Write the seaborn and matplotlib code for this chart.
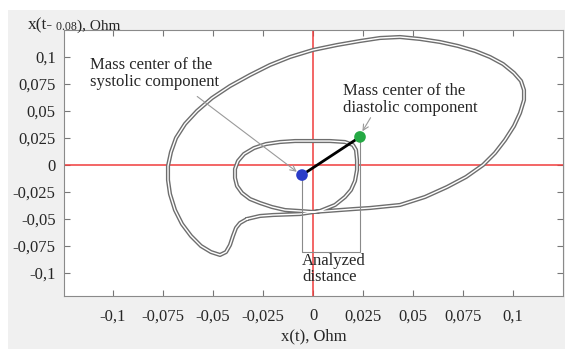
import matplotlib
matplotlib.use("Agg")
import pandas as pd
import seaborn as sns
import matplotlib.pyplot as plt
from matplotlib.patches import Rectangle

# phase portrait trace (Ohm)
loop_x = [-0.033, -0.0265, -0.020, -0.0065, 0.0035, 0.011, 0.016, 0.019, 0.021, 0.022,
          0.022, 0.0215, 0.020, 0.016, 0.0085, 0.0, -0.009, -0.0165, -0.0235, -0.0295,
          -0.0345, -0.0375, -0.039, -0.039, -0.038, -0.0355, -0.0315, -0.0265, -0.0205, -0.014,
          -0.0065, 0.0, 0.007, 0.0135, 0.021, 0.0285, 0.0435, 0.056, 0.067, 0.0765,
          0.085, 0.091, 0.096, 0.1005, 0.1035, 0.1055, 0.1055, 0.104, 0.1005, 0.095,
          0.0885, 0.081, 0.0725, 0.0635, 0.0535, 0.0435, 0.0335, 0.0235, 0.012, 0.0,
          -0.0115, -0.0215, -0.0315, -0.0415, -0.0505, -0.058, -0.064, -0.0685, -0.071, -0.0725,
          -0.0725, -0.0715, -0.069, -0.0655, -0.061, -0.056, -0.051, -0.0465, -0.0435, -0.0415,
          -0.040, -0.0385, -0.0365, -0.033]
loop_y = [-0.050, -0.0472, -0.0463, -0.0454, -0.0426, -0.037, -0.0296, -0.0231, -0.0148, -0.0046,
          0.0046, 0.0139, 0.0185, 0.0213, 0.0222, 0.0222, 0.0222, 0.0213, 0.0194, 0.0157,
          0.0102, 0.0037, -0.0037, -0.012, -0.0194, -0.0259, -0.0315, -0.0352, -0.0389, -0.0417,
          -0.0426, -0.0435, -0.0426, -0.0417, -0.0407, -0.0398, -0.037, -0.0296, -0.0204, -0.0111,
          0.0, 0.0111, 0.0231, 0.0361, 0.0481, 0.0602, 0.0694, 0.0778, 0.0852, 0.0935,
          0.1, 0.1056, 0.1102, 0.1139, 0.1167, 0.1185, 0.1176, 0.1148, 0.1111, 0.1065,
          0.1, 0.0926, 0.0833, 0.0731, 0.062, 0.05, 0.038, 0.025, 0.012, -0.0009,
          -0.0139, -0.0269, -0.0417, -0.0546, -0.0657, -0.075, -0.0806, -0.0833, -0.0806, -0.0741,
          -0.0657, -0.0583, -0.0537, -0.050]

systolic_center = (-0.0055, -0.0093)
diastolic_center = (0.0235, 0.026)
bracket_bottom = -0.0806

ticks = [-0.1, -0.075, -0.05, -0.025, 0, 0.025, 0.05, 0.075, 0.1]
tick_labels = ['-0,1', '-0,075', '-0,05', '-0,025', '0', '0,025', '0,05', '0,075', '0,1']

df = pd.DataFrame({'x': loop_x, 'y': loop_y})

sns.set_style("ticks")
plt.rcParams['font.family'] = ['Liberation Serif', 'DejaVu Serif']

fig = plt.figure(figsize=(5.65, 3.49), dpi=100)
fig.patch.set_facecolor('white')
fig.patches.append(Rectangle((8 / 565, 0), 1, 1 - 10 / 349, transform=fig.transFigure,
                             facecolor='#f0f0f0', edgecolor='none', zorder=-10))
ax = fig.add_axes([64 / 565, 1 - 296 / 349, (563 - 64) / 565, (296 - 30) / 349])
ax.set_facecolor('white')

ax.axhline(0, color='#f03c3c', lw=1.1, zorder=1)
ax.axvline(0, color='#f03c3c', lw=1.1, zorder=1)

# double-stroked gray trace
sns.lineplot(data=df, x='x', y='y', sort=False, estimator=None, ax=ax,
             color='#6e6e6e', lw=3.0, zorder=2, solid_joinstyle='round')
sns.lineplot(data=df, x='x', y='y', sort=False, estimator=None, ax=ax,
             color='white', lw=1.0, zorder=3, solid_joinstyle='round')

# analyzed distance bracket
sx, sy = systolic_center
dx, dy = diastolic_center
ax.plot([sx, sx, dx, dx], [sy, bracket_bottom, bracket_bottom, dy], color='#8a8a8a', lw=0.8, zorder=4)
ax.plot([sx, dx], [sy, dy], color='black', lw=2.0, zorder=5)
centers = pd.DataFrame({'x': [sx, dx], 'y': [sy, dy], 'c': ['sys', 'dia']})
sns.scatterplot(data=centers, x='x', y='y', hue='c', palette={'sys': '#2a3cc8', 'dia': '#25a944'},
                s=70, edgecolor='none', legend=False, ax=ax, zorder=6)

ax.annotate('', xy=(sx - 0.0015, sy + 0.0015), xytext=(-0.059, 0.065),
            arrowprops=dict(arrowstyle='->', color='#9a9a9a', lw=0.8), zorder=4)
ax.text(-0.1115, 0.1, 'Mass center of the\nsystolic component', fontsize=12,
        va='top', ha='left', linespacing=1.05)
ax.annotate('', xy=(dx + 0.0005, dy + 0.003), xytext=(0.0295, 0.046),
            arrowprops=dict(arrowstyle='->', color='#9a9a9a', lw=0.8), zorder=4)
ax.text(0.015, 0.076, 'Mass center of the\ndiastolic component', fontsize=12,
        va='top', ha='left', linespacing=1.05)
ax.text(sx, bracket_bottom - 0.001, 'Analyzed\ndistance', fontsize=12,
        va='top', ha='left', linespacing=1.0)

ax.set_xlim(-0.1245, 0.125)
ax.set_ylim(-0.1213, 0.125)
ax.set_xticks(ticks)
ax.set_xticklabels(tick_labels)
ax.set_yticks(ticks)
ax.set_yticklabels(tick_labels)
ax.tick_params(direction='in', length=4, width=0.8, color='#777777', labelsize=12,
               top=True, right=True, pad=6)
ax.tick_params(axis='x', pad=9)
for sp in ax.spines.values():
    sp.set_color('#8a8a8a')
    sp.set_linewidth(0.8)
ax.set_xlabel('x(t), Ohm', fontsize=12, labelpad=3)
ax.set_ylabel('')

t1 = fig.text(28 / 565, 1 - 29 / 349, 'x(t-', fontsize=12.5, va='baseline')
t2 = ax.annotate(' 0.08', xy=(1, 0), xycoords=t1, va='bottom', fontsize=8.5)
ax.annotate('), Ohm', xy=(1, 0), xycoords=t2, va='bottom', fontsize=11)

fig.savefig('out.png', dpi=100, facecolor=fig.get_facecolor())
